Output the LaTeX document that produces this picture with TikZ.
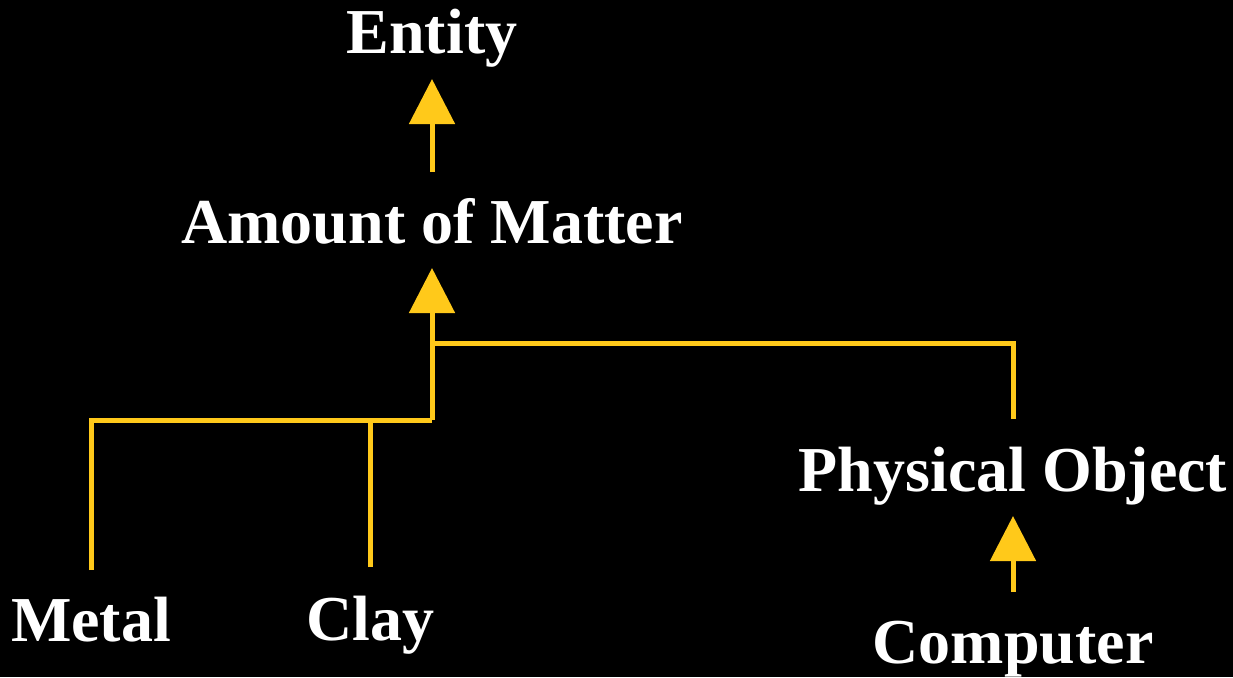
\documentclass[tikz,border=0pt]{standalone}
\usepackage{fontspec}
\setmainfont{Liberation Serif}
\usetikzlibrary{arrows.meta}
\definecolor{gold}{HTML}{FFC91A}
\begin{document}
\begin{tikzpicture}[x=1pt,y=-1pt,
  lbl/.style={text=white,font=\fontsize{64}{70}\selectfont\bfseries,inner sep=0pt,anchor=base},
  conn/.style={draw=gold,line width=5pt},
  arr/.style={conn,-{Triangle[length=45pt,width=45pt]}}]
\fill[black] (0,0) rectangle (1233,677);
\useasboundingbox (0,0) rectangle (1233,677);
\node[lbl] (entity) at (432,53) {Entity};
\node[lbl] (amount) at (432,243) {Amount of Matter};
\node[lbl] (po) at (1013,491) {Physical Object};
\node[lbl] (metal) at (91,641) {Metal};
\node[lbl] (clay) at (370,640) {Clay};
\node[lbl] (comp) at (1013,663) {Computer};
\coordinate (jn) at (432,420);
\coordinate (jp) at (432,343);
\draw[arr] ([yshift=71pt]amount.base) -- ([yshift=-26pt]amount.base |- entity.base);
\draw[conn] ([yshift=71pt]metal.base) |- (jn);
\draw[conn] ([yshift=73pt]clay.base) |- (jn);
\draw[conn] ([yshift=72pt]po.base) |- (jp);
\draw[arr] (jn) -- ([yshift=-25pt]amount.base);
\draw[arr] ([yshift=71pt]comp.base) -- ([yshift=-25pt]po.base);
\end{tikzpicture}
\end{document}
